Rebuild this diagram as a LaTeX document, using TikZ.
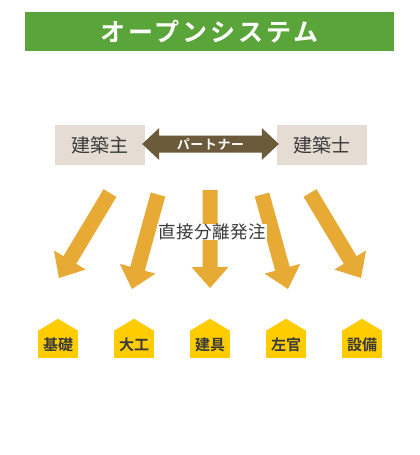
\documentclass[tikz,border=0pt]{standalone}
\usepackage{fontspec}
\setmainfont{Noto Sans CJK JP}[BoldFont={Noto Sans CJK JP Bold}]
\usetikzlibrary{calc}
\definecolor{titlegreen}{HTML}{5AA53A}
\definecolor{boxbeige}{HTML}{E5DDD3}
\definecolor{partnerc}{HTML}{6B5B3A}
\definecolor{arrowc}{HTML}{E6AA35}
\definecolor{housec}{HTML}{FFCC00}
\definecolor{darktext}{HTML}{3A3A3A}
\newcommand\fatarr[2]{%
  \path ($(#2)!21pt!(#1)$) coordinate (hb);
  \fill[arrowc] ($(#1)!7.5pt!90:(#2)$) -- ($(hb)!7.5pt!90:(#2)$) -- ($(hb)!18.5pt!90:(#2)$) -- (#2)
    -- ($(hb)!18.5pt!-90:(#2)$) -- ($(hb)!7.5pt!-90:(#2)$) -- ($(#1)!7.5pt!-90:(#2)$) -- cycle;}
\tikzset{
  titlebox/.style={fill=titlegreen, text=white, minimum width=369pt, minimum height=39pt, inner sep=0pt,
    font=\fontsize{25}{25}\selectfont\bfseries\addfontfeatures{LetterSpace=12}},
  partybox/.style={fill=boxbeige, text=darktext, minimum width=90pt, minimum height=40pt, inner sep=0pt,
    font=\fontsize{19}{19}\selectfont},
  house/.style={fill=housec, text=darktext, minimum width=40pt, minimum height=27pt, inner sep=0pt,
    font=\fontsize{15}{15}\selectfont\bfseries},
}
\newcommand\roof[1]{\fill[housec] (#1.north west) -- ($(#1.north)+(0,-12)$) -- (#1.north east) -- cycle;}
\begin{document}
\begin{tikzpicture}[x=1pt,y=-1pt]
\useasboundingbox (0,0) rectangle (420,455);
\node[titlebox] (title) at (209.5,31.5) {オープンシステム};
\node[partybox] (b1) at (100,145) {建築主};
\node[partybox] (b2) at (322,145) {建築士};
% partner double arrow
\coordinate (pl) at ($(b1.east)+(-3,-1)$);
\coordinate (pr) at ($(b2.west)+(2,-1)$);
\fill[partnerc] (pl) -- ($(pl)+(17,-16)$) -- ($(pl)+(17,-8.5)$) -- ($(pr)+(-17,-8.5)$) -- ($(pr)+(-17,-16)$) -- (pr)
  -- ($(pr)+(-17,16)$) -- ($(pr)+(-17,8.5)$) -- ($(pl)+(17,8.5)$) -- ($(pl)+(17,16)$) -- cycle;
\node[text=white, font=\fontsize{13}{13}\selectfont\bfseries\addfontfeatures{LetterSpace=4}] (partner) at ($(pl)!0.5!(pr)$) {パートナー};
% arrows
\coordinate (a1s) at (110,193); \coordinate (a1t) at (59,278);
\coordinate (a2s) at (158,194.5); \coordinate (a2t) at (132,289);
\coordinate (a3s) at (210,190); \coordinate (a3t) at (210,288);
\coordinate (a4s) at (262,194.5); \coordinate (a4t) at (288,289);
\coordinate (a5s) at (310,193); \coordinate (a5t) at (361,278);
\fatarr{a1s}{a1t}
\fatarr{a2s}{a2t}
\fatarr{a3s}{a3t}
\fatarr{a4s}{a4t}
\fatarr{a5s}{a5t}
\node[fill=white, inner xsep=1pt, inner ysep=0pt, text=darktext, font=\fontsize{17.5}{17.5}\selectfont\addfontfeatures{LetterSpace=3}] (direct) at (212,232) {直接分離発注};
% houses
\node[house] (h1) at (58,344.5) {基礎}; \roof{h1}
\node[house] (h2) at (134,344.5) {大工}; \roof{h2}
\node[house] (h3) at (210,344.5) {建具}; \roof{h3}
\node[house] (h4) at (286,344.5) {左官}; \roof{h4}
\node[house] (h5) at (362,344.5) {設備}; \roof{h5}
\end{tikzpicture}
\end{document}
